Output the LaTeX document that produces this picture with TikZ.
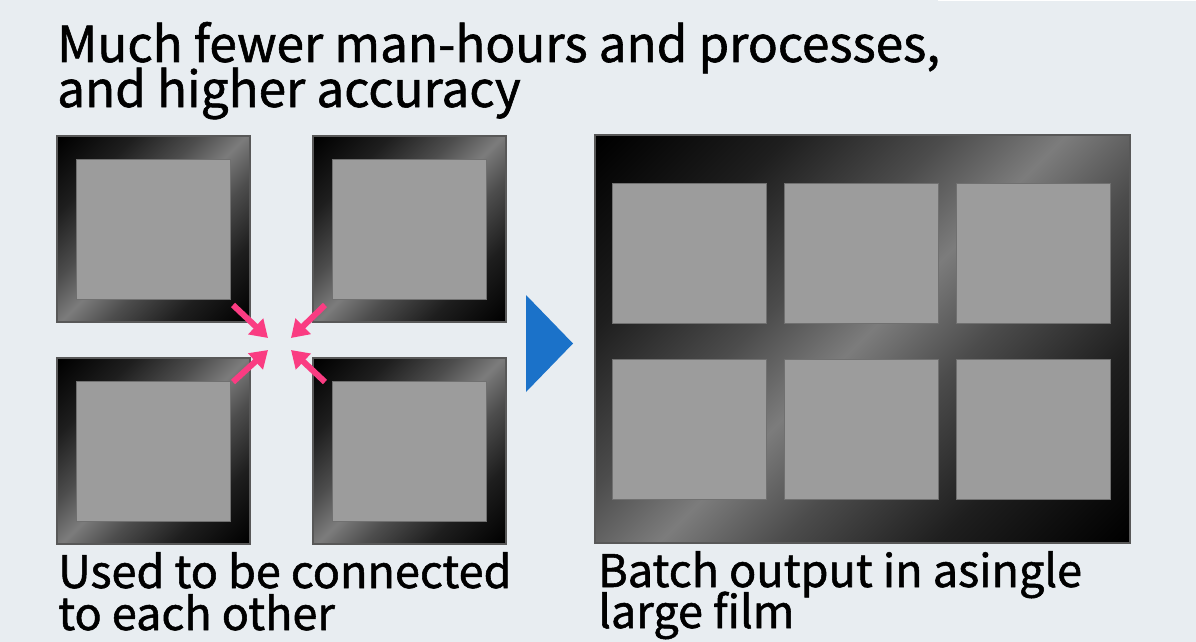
\documentclass[tikz,border=0pt]{standalone}
\usepackage{fontspec}
\setmainfont{Noto Sans CJK JP}[FakeBold=1.2]
\usetikzlibrary{arrows.meta}
\definecolor{bg}{HTML}{E8EDF1}
\definecolor{pinkarrow}{HTML}{FA3C82}
\definecolor{bluetri}{HTML}{1B72C9}
\definecolor{innergray}{HTML}{9C9C9C}
\definecolor{innerline}{HTML}{707070}
\definecolor{frameline}{HTML}{585858}
\definecolor{shineA}{HTML}{1E1E1E}
\definecolor{shineB}{HTML}{4C4C4C}
\definecolor{shineC}{HTML}{7C7C7C}
\pgfdeclareverticalshading{filmshade}{100bp}{color(0bp)=(black); color(15bp)=(black); color(29bp)=(shineA); color(41bp)=(shineB); color(50bp)=(shineC); color(59bp)=(shineB); color(71bp)=(shineA); color(85bp)=(black); color(100bp)=(black)}
\tikzset{
  film/.style={shading=filmshade, shading angle=45, draw=frameline, line width=1.2pt, inner sep=0pt, outer sep=0pt},
  picbox/.style={fill=innergray, draw=innerline, line width=1pt, minimum width=154pt, minimum height=140pt, inner sep=0pt},
  pinkarrow/.style={draw=pinkarrow, line width=6pt, -{Triangle[length=17pt,width=21pt]}},
  titletext/.style={anchor=base west, inner sep=0pt, font=\fontsize{49.5}{58}\selectfont},
  captext/.style={anchor=base west, inner sep=0pt, font=\fontsize{45}{52}\selectfont}
}
\begin{document}
\begin{tikzpicture}[x=1pt,y=-1pt]
\useasboundingbox (0,0) rectangle (1196,642);
\fill[bg] (0,0) rectangle (1196,642);
\fill[white] (938,0) rectangle (1196,1.5);

% title
\node[titletext] (t1) at (57,62) {Much fewer man-hours and processes,};
\node[titletext] (t2) at (57,107) {and higher accuracy};

% small films
\node[film, minimum width=193pt, minimum height=186pt] (f1) at (153.5,229) {};
\node[film, minimum width=193pt, minimum height=186pt] (f2) at (409.5,229) {};
\node[film, minimum width=193pt, minimum height=186pt] (f3) at (153.5,451) {};
\node[film, minimum width=193pt, minimum height=186pt] (f4) at (409.5,451) {};
\node[picbox] (i1) at (f1.center) {};
\node[picbox] (i2) at (f2.center) {};
\node[picbox] (i3) at (f3.center) {};
\node[picbox] (i4) at (f4.center) {};

% pink arrows
\coordinate (a1s) at (233,305); \coordinate (a1e) at (268,338);
\coordinate (a2s) at (325,305); \coordinate (a2e) at (291,338);
\coordinate (a3s) at (233,382); \coordinate (a3e) at (268,350);
\coordinate (a4s) at (325,382); \coordinate (a4e) at (291,350);
\draw[pinkarrow] (a1s) -- (a1e);
\draw[pinkarrow] (a2s) -- (a2e);
\draw[pinkarrow] (a3s) -- (a3e);
\draw[pinkarrow] (a4s) -- (a4e);

% blue triangle
\fill[bluetri] (526,295) -- (573,343.5) -- (526,392) -- cycle;

% large film
\node[film, minimum width=535pt, minimum height=408pt] (big) at (862.5,339) {};
\node[picbox] (b1) at (689,253) {};
\node[picbox] (b2) at (861,253) {};
\node[picbox] (b3) at (1033,253) {};
\node[picbox] (b4) at (689,429) {};
\node[picbox] (b5) at (861,429) {};
\node[picbox] (b6) at (1033,429) {};

% captions
\node[captext] (c1) at (58,588) {Used to be connected};
\node[captext] (c2) at (58,630) {to each other};
\node[captext] (c3) at (598,587) {Batch output in asingle};
\node[captext] (c4) at (598,628) {large film};
\end{tikzpicture}
\end{document}
